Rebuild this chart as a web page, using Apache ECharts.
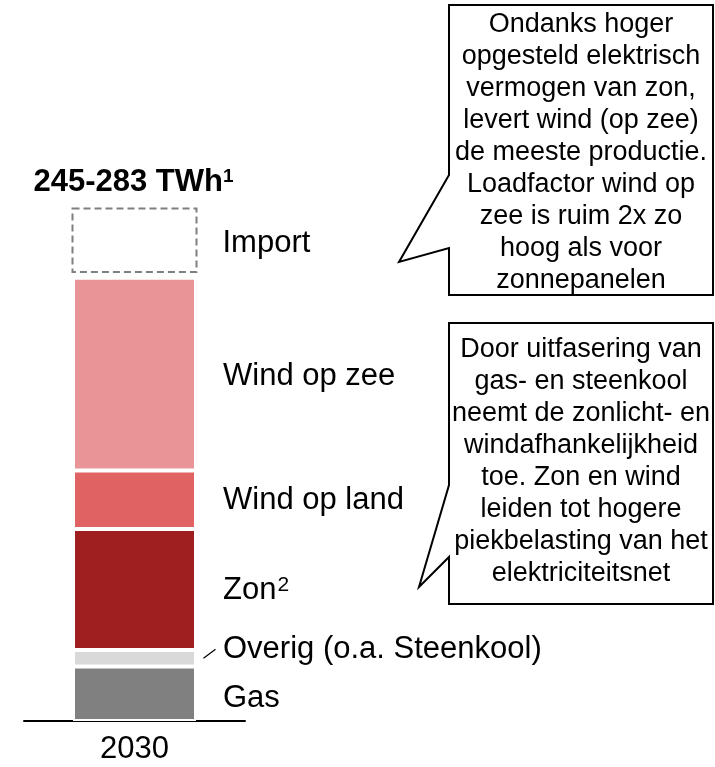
<!DOCTYPE html>
<html>
<head>
<meta charset="utf-8">
<script src="https://cdn.jsdelivr.net/npm/echarts@6/dist/echarts.min.js"></script>
<style>
html,body{margin:0;padding:0;background:#fff;}
#c{width:715px;height:767px;}
</style>
</head>
<body>
<div id="c"></div>
<script>
// ---- data ----
const categories = ['2030'];
const seriesNames = ['Gas', 'Overig (o.a. Steenkool)', 'Zon', 'Wind op land', 'Wind op zee'];
const seriesLabels = ['Gas', 'Overig (o.a. Steenkool)', 'Zon{s|2}', 'Wind op land', 'Wind op zee'];
const gas = [30.3];
const overig = [9.2];
const zon = [67.2];
const windLand = [32.5];
const windZee = [107];
const importRange = [245, 283];
const importLabel = 'Import';
const totalLabel = '245-283 TWh{s|1}';
const callout1 = ['Ondanks hoger', 'opgesteld elektrisch', 'vermogen van zon,', 'levert wind (op zee)', 'de meeste productie.', 'Loadfactor wind op', 'zee is ruim 2x zo', 'hoog als voor', 'zonnepanelen'];
const callout2 = ['Door uitfasering van', 'gas- en steenkool', 'neemt de zonlicht- en', 'windafhankelijkheid', 'toe. Zon en wind', 'leiden tot hogere', 'piekbelasting van het', 'elektriciteitsnet'];

const colors = ['#808080', '#D9D9D9', '#9F1F21', '#E06262', '#E99496'];
const FONT = '"Liberation Sans", Arial, sans-serif';
const LABEL_SIZE = 31;
const values = [gas, overig, zon, windLand, windZee];
const labelOffsets = [[0, 5], [0, -9], [0, 1], [0, 1], [0, 2]];

const chart = echarts.init(document.getElementById('c'), null, {renderer: 'canvas'});

const barSeries = seriesNames.map((name, i) => ({
  name: name,
  type: 'bar',
  stack: 'total',
  barWidth: 123,
  data: values[i],
  itemStyle: {color: colors[i], borderColor: '#ffffff', borderWidth: 2},
  label: {
    show: true,
    position: 'right',
    distance: 27,
    offset: labelOffsets[i],
    formatter: seriesLabels[i],
    fontSize: LABEL_SIZE,
    fontFamily: FONT,
    color: '#000',
    rich: {
      s: {fontSize: 21, fontFamily: FONT, color: '#000', verticalAlign: 'top', padding: [0, 0, 0, 1]}
    }
  },
  emphasis: {disabled: true},
  silent: true
}));

const importSeries = {
  type: 'custom',
  silent: true,
  data: [[0, importRange[0], importRange[1]]],
  encode: {x: 0, y: [1, 2]},
  renderItem: function (params, api) {
    const top = api.coord([api.value(0), api.value(2)]);
    const bot = api.coord([api.value(0), api.value(1)]);
    const cx = top[0];
    return {
      type: 'group',
      children: [
        {
          type: 'rect',
          shape: {x: cx - 62, y: top[1] - 3, width: 124, height: bot[1] - top[1] - 5},
          style: {fill: 'none', stroke: '#7F7F7F', lineWidth: 2, lineDash: [7, 4]}
        },
        {
          type: 'text',
          style: {
            text: importLabel, x: cx + 88, y: (top[1] + bot[1]) / 2 - 2,
            fill: '#000', font: LABEL_SIZE + 'px ' + FONT, align: 'left', verticalAlign: 'middle'
          }
        },
        {
          type: 'text',
          style: {
            text: totalLabel, x: cx - 1, y: top[1] - 29,
            fill: '#000', font: 'bold 31px ' + FONT, align: 'center', verticalAlign: 'middle',
            rich: {s: {font: 'bold 19px ' + FONT, fill: '#000', verticalAlign: 'top'}}
          }
        }
      ]
    };
  }
};

function calloutGraphic(points, lines, cx, cy) {
  return [
    {
      type: 'polygon',
      shape: {points: points},
      style: {fill: '#fff', stroke: '#000', lineWidth: 2},
      z: 10
    },
    {
      type: 'text',
      x: cx, y: cy,
      style: {
        text: lines.join('\n'),
        fill: '#000',
        font: '27px ' + FONT,
        lineHeight: 32,
        align: 'center',
        verticalAlign: 'middle',
        textAlign: 'center',
        textVerticalAlign: 'middle'
      },
      z: 11
    }
  ];
}

const option = {
  backgroundColor: '#fff',
  animation: false,
  grid: {left: 24, right: 470, top: 181, bottom: 46},
  xAxis: {
    type: 'category',
    data: categories,
    axisLine: {show: true, lineStyle: {color: '#000', width: 2}},
    axisTick: {show: false},
    axisLabel: {fontSize: 31, fontFamily: FONT, color: '#000', margin: 13}
  },
  yAxis: {
    type: 'value', min: 0, max: 300, show: false,
    splitLine: {show: false}
  },
  series: barSeries.concat([importSeries])
};
chart.setOption(option);

// leader line for the "Overig" label, anchored on the data
const mid = chart.convertToPixel({gridIndex: 0}, [0, gas[0] + overig[0] / 2]);
const graphics = []
  .concat(calloutGraphic([[449, 5], [713, 5], [713, 295], [449, 295], [449, 248], [399, 262], [449, 175]], callout1, 581, 153))
  .concat(calloutGraphic([[449, 323], [713, 323], [713, 604], [449, 604], [449, 557], [419, 587], [449, 485]], callout2, 581, 462))
  .concat([{
    type: 'line',
    shape: {x1: mid[0] + 69, y1: mid[1], x2: mid[0] + 81, y2: mid[1] - 9},
    style: {stroke: '#000', lineWidth: 1.2}
  }]);
chart.setOption({graphic: graphics});
</script>
</body>
</html>
